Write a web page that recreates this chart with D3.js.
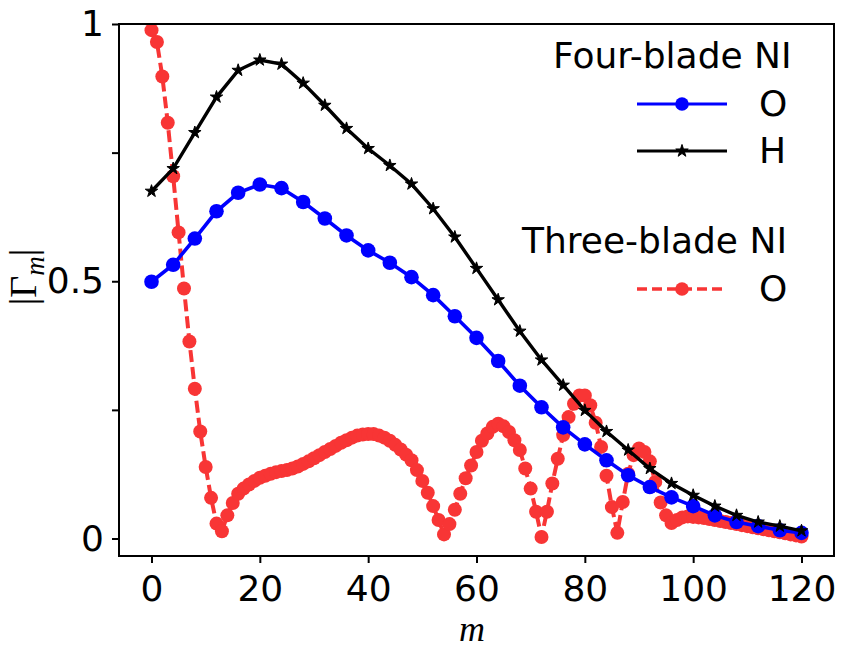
<!DOCTYPE html>
<html>
<head>
<meta charset="utf-8">
<script src="https://cdn.jsdelivr.net/npm/d3@7"></script>
<style>
  body { margin: 0; background: #fff; }
  text { font-family: "DejaVu Sans", sans-serif; fill: #000; }
</style>
</head>
<body>
<script>
// mode numbers and |Gamma_m|
const mFour = [0, 4, 8, 12, 16, 20, 24, 28, 32, 36, 40, 44, 48, 52, 56, 60,
               64, 68, 72, 76, 80, 84, 88, 92, 96, 100, 104, 108, 112, 116, 120];
const fourO = [0.499, 0.532, 0.583, 0.636, 0.672, 0.688, 0.681, 0.654, 0.622, 0.589, 0.560,
               0.536, 0.508, 0.473, 0.432, 0.390, 0.345, 0.297, 0.255, 0.216, 0.183,
               0.152, 0.123, 0.100, 0.080, 0.063, 0.045, 0.032, 0.024, 0.016, 0.011];
const fourH = [0.675, 0.719, 0.789, 0.858, 0.910, 0.930, 0.922, 0.885, 0.842, 0.797, 0.758,
               0.725, 0.689, 0.641, 0.586, 0.525, 0.464, 0.403, 0.347, 0.298, 0.249,
               0.208, 0.172, 0.136, 0.107, 0.084, 0.063, 0.045, 0.032, 0.024, 0.015];

const mThree = [0, 1, 2, 3, 4, 5, 6, 7, 8, 9, 10, 11, 12, 13, 14, 15, 16, 17, 18, 19,
                20, 21, 22, 23, 24, 25, 26, 27, 28, 29, 30, 31, 32, 33, 34, 35, 36, 37, 38, 39,
                40, 41, 42, 43, 44, 45, 46, 47, 48, 49, 50, 51, 52, 53, 54, 55, 56, 57, 58, 59,
                60, 61, 62, 63, 64, 65, 66, 67, 68, 69, 70, 71, 72, 73, 74, 75, 76, 77, 78, 79,
                80, 81, 82, 83, 84, 85, 86, 87, 88, 89, 90, 91, 92, 93, 94, 95, 96, 97, 98, 99,
                100, 101, 102, 103, 104, 105, 106, 107, 108, 109, 110, 111, 112, 113, 114, 115,
                116, 117, 118, 119, 120];
const threeO = [0.988, 0.965, 0.898, 0.808, 0.704, 0.595, 0.486, 0.383, 0.291, 0.208,
                0.139, 0.079, 0.029, 0.014, 0.045, 0.069, 0.087, 0.097, 0.105, 0.112,
                0.118, 0.122, 0.126, 0.129, 0.131, 0.133, 0.136, 0.140, 0.145, 0.150,
                0.156, 0.162, 0.168, 0.174, 0.180, 0.186, 0.191, 0.196, 0.200, 0.202,
                0.203, 0.203, 0.200, 0.196, 0.190, 0.182, 0.173, 0.163, 0.152, 0.133,
                0.112, 0.089, 0.063, 0.036, 0.008, 0.028, 0.056, 0.087, 0.117, 0.142,
                0.168, 0.190, 0.204, 0.217, 0.223, 0.218, 0.207, 0.191, 0.172, 0.136,
                0.097, 0.052, 0.003, 0.052, 0.107, 0.155, 0.201, 0.236, 0.262, 0.278,
                0.278, 0.259, 0.225, 0.178, 0.122, 0.061, 0.011, 0.071, 0.126, 0.162,
                0.175, 0.168, 0.150, 0.110, 0.070, 0.045, 0.030, 0.036, 0.041, 0.043,
                0.042, 0.041, 0.040, 0.038, 0.036, 0.034, 0.032, 0.030, 0.028, 0.026,
                0.024, 0.022, 0.020, 0.018, 0.016, 0.014, 0.012, 0.010, 0.008, 0.006, 0.004];

const xTicks = [0, 20, 40, 60, 80, 100, 120];
const yTicks = [0, 0.25, 0.5, 0.75, 1];
const yTickText = { 0: "0", 0.5: "0.5", 1: "1" };

const margin = { top: 24, right: 23, bottom: 94, left: 119 },
      width = 857 - margin.left - margin.right,
      height = 650 - margin.top - margin.bottom;

const redC = "#f83535";

let svg = d3.select("body").append("svg")
    .attr("width", 857)
    .attr("height", 650);

let g = svg.append("g")
    .attr("transform", `translate(${margin.left}, ${margin.top})`);

let x = d3.scaleLinear().domain([-6, 126]).range([0, width]);
let y = d3.scaleLinear().domain([-0.034, 1]).range([height, 0]);

// axes
let xAxis = g.append("g")
    .attr("transform", `translate(0, ${height})`)
    .call(d3.axisBottom(x).tickValues(xTicks).tickSize(7).tickPadding(12));
let yAxis = g.append("g")
    .call(d3.axisLeft(y).tickValues(yTicks).tickSize(7).tickPadding(8)
        .tickFormat(d => yTickText[d] || ""));

[xAxis, yAxis].forEach(a => {
    a.select(".domain").remove();
    a.selectAll(".tick line").attr("stroke", "#000").attr("stroke-width", 2);
    a.selectAll(".tick text")
        .style("font-family", "'DejaVu Sans', sans-serif")
        .style("font-size", "36px")
        .attr("fill", "#000");
});

// series data
let three = mThree.map((m, i) => ({ m: m, v: threeO[i] }));
let fo = mFour.map((m, i) => ({ m: m, v: fourO[i] }));
let fh = mFour.map((m, i) => ({ m: m, v: fourH[i] }));

let line = d3.line().x(d => x(d.m)).y(d => y(d.v));

// three-blade O (red dashed)
g.append("path").datum(three)
    .attr("d", line)
    .attr("fill", "none")
    .attr("stroke", redC)
    .attr("stroke-width", 4)
    .attr("stroke-dasharray", "12,5");
g.append("g").selectAll("circle")
    .data(three)
    .enter().append("circle")
    .attr("cx", d => x(d.m))
    .attr("cy", d => y(d.v))
    .attr("r", 7)
    .attr("fill", redC);

// four-blade O (blue)
g.append("path").datum(fo)
    .attr("d", line)
    .attr("fill", "none")
    .attr("stroke", "#0000ff")
    .attr("stroke-width", 3.6);
g.append("g").selectAll("circle")
    .data(fo)
    .enter().append("circle")
    .attr("cx", d => x(d.m))
    .attr("cy", d => y(d.v))
    .attr("r", 7.3)
    .attr("fill", "#0000ff");

// four-blade H (black stars)
let star = d3.symbol().type(d3.symbolStar).size(48);
g.append("path").datum(fh)
    .attr("d", line)
    .attr("fill", "none")
    .attr("stroke", "#000")
    .attr("stroke-width", 3.4);
g.append("g").selectAll("path")
    .data(fh)
    .enter().append("path")
    .attr("d", star)
    .attr("transform", d => `translate(${x(d.m)}, ${y(d.v)})`)
    .attr("fill", "#000")
    .attr("stroke", "#000")
    .attr("stroke-width", 1);

// frame
g.append("rect")
    .attr("width", width)
    .attr("height", height)
    .attr("fill", "none")
    .attr("stroke", "#000")
    .attr("stroke-width", 2);

// axis labels
svg.append("text")
    .attr("x", 472)
    .attr("y", 641)
    .attr("text-anchor", "middle")
    .style("font-family", "'Liberation Serif', serif")
    .style("font-style", "italic")
    .style("font-size", "36px")
    .text("m");

let yl = svg.append("text")
    .attr("transform", "translate(36, 277) rotate(-90)")
    .attr("text-anchor", "middle")
    .style("font-family", "'Liberation Serif', serif")
    .style("font-size", "38px");
yl.append("tspan").text("|Γ");
yl.append("tspan").attr("dy", 8).style("font-style", "italic").style("font-size", "27px").text("m");
yl.append("tspan").attr("dy", -8).text("|");

// legend
let leg = svg.append("g");
leg.append("text").attr("x", 553).attr("y", 68).style("font-size", "36px").text("Four-blade NI");
leg.append("text").attr("x", 522).attr("y", 253).style("font-size", "36px").text("Three-blade NI");

let legRows = [
    { y: 104, color: "#0000ff", dash: null, mark: "circle", label: "O" },
    { y: 151, color: "#000", dash: null, mark: "star", label: "H" },
    { y: 289, color: redC, dash: "10,5", mark: "circle", label: "O" }
];
legRows.forEach(r => {
    leg.append("line")
        .attr("x1", 637).attr("x2", 727)
        .attr("y1", r.y).attr("y2", r.y)
        .attr("stroke", r.color)
        .attr("stroke-width", r.dash ? 3.5 : 3)
        .attr("stroke-dasharray", r.dash);
    if (r.mark === "circle") {
        leg.append("circle").attr("cx", 682).attr("cy", r.y).attr("r", 6.8).attr("fill", r.color);
    } else {
        leg.append("path").attr("d", star)
            .attr("transform", `translate(682, ${r.y})`)
            .attr("fill", "#000").attr("stroke", "#000").attr("stroke-width", 1);
    }
    leg.append("text").attr("x", 759).attr("y", r.y + 12)
        .style("font-size", "36px").text(r.label);
});
</script>
</body>
</html>
